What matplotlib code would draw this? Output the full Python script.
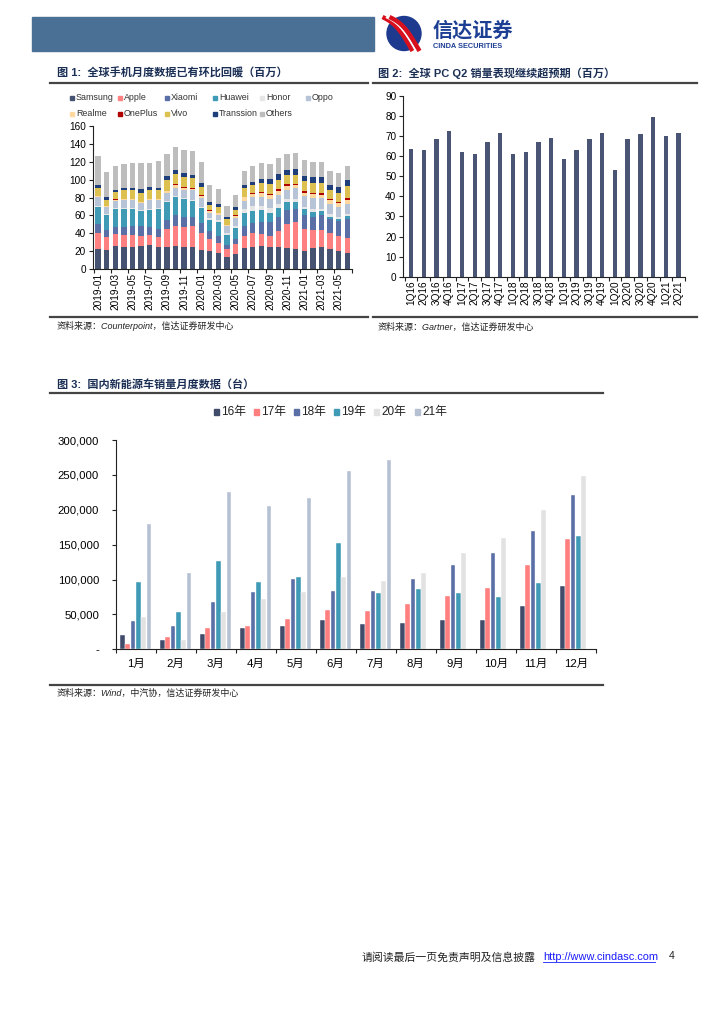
import numpy as np
import matplotlib
matplotlib.use('Agg')
import matplotlib.pyplot as plt
from matplotlib.patches import Rectangle, Circle
from matplotlib.ticker import FuncFormatter

plt.rcParams['font.family'] = ['Liberation Sans', 'Noto Sans CJK SC', 'DejaVu Sans']

W, H = 724, 1024

# ---- Figure 1: global smartphone monthly shipments (millions)
months = ['%d-%02d' % (y, m) for y in (2019, 2020, 2021) for m in range(1, 13)][:30]
brands = ['Samsung', 'Apple', 'Xiaomi', 'Huawei', 'Honor', 'Oppo',
          'Realme', 'OnePlus', 'Vivo', 'Transsion', 'Others']
samsung = [22, 21.3, 25.8, 24.7, 24.7, 25.8, 26.5, 24.7, 24.7, 26.2, 24.7, 24.3, 21.3, 20.2, 18.3,
           13.5, 16.8, 23.2, 24.7, 25.4, 25, 24.7, 23.6, 22.4, 20.6, 23.9, 24.3, 22.8, 20.6, 17.9]
apple = [18.4, 15, 13.8, 13.4, 13.8, 11.6, 11.3, 10.8, 19.8, 22.4, 22.8, 24.3, 19.1, 13.4, 10.5,
         8.9, 10.9, 14.2, 15.7, 14.2, 12.4, 17.5, 27.2, 29.9, 24.3, 19.8, 19.8, 17.2, 16.8, 16.9]
xiaomi = [10.4, 7.4, 7.9, 9.4, 9.7, 10.5, 9.7, 9.7, 10.1, 12.4, 11.2, 10.1, 10.8, 9, 8.6,
          4.5, 5.9, 11.2, 10.8, 13.4, 15.3, 16.1, 15.7, 15, 16.1, 15, 16.1, 15.7, 16.4, 21.6]
huawei = [18.7, 17.3, 19.5, 20.2, 19.5, 17.5, 19, 21.8, 20.9, 20.1, 19.8, 17.9, 16.8, 12, 15.3,
          11.6, 12.8, 14.2, 13.8, 12.8, 10.5, 10.5, 9, 8.2, 6, 5.2, 4.5, 3, 2.3, 2.6]
honor = [1, 1, 1, 1, 1, 1, 1, 1, 1, 1, 1, 1, 1.5, 2.2, 2.2,
         2.2, 2.2, 4.5, 6, 5.2, 5.2, 4.1, 3, 3.4, 2.5, 3.1, 3, 2.6, 2.6, 2.7]
oppo = [10.2, 8, 8.6, 8.7, 8.7, 7.2, 9.5, 9, 8.4, 9.1, 9.1, 10.6, 10.1, 6, 5.3,
        7.2, 9, 9.3, 9.7, 10.1, 10.1, 10.5, 10.5, 11.6, 12.4, 13, 11.6, 11.2, 11.2, 11.6]
realme = [1, 0.7, 1, 1, 1, 1, 1.2, 1.2, 2.5, 3, 2.5, 2, 2.5, 2.2, 2.2,
          1.1, 2.2, 3.7, 3, 4.1, 4.9, 4.5, 4.5, 4.1, 3.7, 3.7, 4.1, 4.5, 4.1, 4.5]
oneplus = [0.7, 0.4, 0.4, 0.4, 0.4, 0.4, 0.4, 0.4, 0.6, 1.5, 1.1, 0.7, 0.7, 0.7, 0.7,
           0.4, 0.7, 0.7, 1.1, 1.1, 1.1, 1.5, 1.5, 1.1, 1.9, 1.9, 1.5, 1.1, 1.5, 1.5]
vivo = [8.1, 6.3, 8, 9.8, 9.4, 10.6, 10, 9.6, 11.8, 11.3, 11.4, 10.8, 9.2, 6.1, 6.4,
        6.3, 6, 9.5, 9, 10.1, 10.5, 10.4, 10.4, 10.1, 11.2, 10.4, 11.1, 10.5, 10.1, 13.7]
transsion = [3.7, 3.6, 2.6, 2.6, 2.6, 3.7, 3.4, 3, 4.2, 3.6, 4.1, 4.1, 4.4, 3.3, 3.8,
             2.6, 3.4, 3.7, 3.8, 4.6, 5.6, 6.4, 6, 6.3, 6, 7.2, 7.2, 5.6, 6.7, 6.8]
others = [32.8, 27.8, 26.9, 26.6, 28.1, 29.6, 26.5, 29.6, 24.6, 25.8, 25.8, 26.9, 23.2, 19.1, 16.4,
          12, 13.1, 15.8, 17.9, 17.5, 17.5, 17.9, 17.6, 18.4, 17.5, 16.4, 16.4, 15.3, 15.7, 15.7]
brand_values = [samsung, apple, xiaomi, huawei, honor, oppo, realme, oneplus, vivo, transsion, others]
brand_colors = ['#465271', '#ff8080', '#5a6fa6', '#3f9ab5', '#e6e6e6', '#b7c3d6',
                '#ffd8a0', '#b00000', '#dcc050', '#1f3f7a', '#bdbdbd']

# ---- Figure 2: global PC shipments (millions)
quarters = ['1Q16', '2Q16', '3Q16', '4Q16', '1Q17', '2Q17', '3Q17', '4Q17', '1Q18', '2Q18', '3Q18',
            '4Q18', '1Q19', '2Q19', '3Q19', '4Q19', '1Q20', '2Q20', '3Q20', '4Q20', '1Q21', '2Q21']
pc = [63.5, 63.2, 68.8, 72.5, 62.0, 61.0, 67.1, 71.6, 61.2, 62.0, 67.2,
      68.9, 58.8, 63.0, 68.8, 71.7, 52.9, 68.4, 71.3, 79.3, 69.9, 71.5]

# ---- Figure 3: domestic NEV monthly sales (units)
cn_months = ['1月', '2月', '3月', '4月', '5月', '6月', '7月', '8月', '9月', '10月', '11月', '12月']
years = ['16年', '17年', '18年', '19年', '20年', '21年']
y16 = [21000, 13000, 22000, 30000, 33000, 42000, 36000, 38000, 42000, 42000, 62000, 91000]
y17 = [7000, 18000, 31000, 34000, 44000, 56000, 55000, 65000, 76000, 88000, 121000, 158000]
y18 = [40000, 34000, 68000, 82000, 101000, 84000, 84000, 101000, 121000, 138000, 170000, 221000]
y19 = [96000, 53000, 126000, 97000, 104000, 152000, 80000, 86000, 80000, 75000, 95000, 163000]
y20 = [46000, 13000, 53000, 72000, 82000, 104000, 98000, 110000, 138000, 160000, 200000, 248000]
y21 = [179000, 110000, 226000, 206000, 217000, 256000, 271000]
year_values = [y16, y17, y18, y19, y20, y21]
year_colors = ['#414c6b', '#ff7f7f', '#5a6fa6', '#3f9ab5', '#e2e2e2', '#b5c0d3']

title_color = '#1b2f55'

fig = plt.figure(figsize=(W / 100, H / 100), dpi=100)
page = fig.add_axes([0, 0, 1, 1])
page.set_xlim(0, W)
page.set_ylim(H, 0)
page.axis('off')


def box(l, t, r, b):
    return fig.add_axes([l / W, 1 - b / H, (r - l) / W, (b - t) / H])


def style_axes(ax):
    for s in ('top', 'right'):
        ax.spines[s].set_visible(False)
    for s in ('left', 'bottom'):
        ax.spines[s].set_color('#222222')
        ax.spines[s].set_linewidth(0.8)
    ax.tick_params(axis='y', direction='out', length=3, width=0.8, color='#222222', pad=2)


# header
page.add_patch(Rectangle((32, 17), 342, 34, color='#4b7096'))
page.add_patch(Circle((404, 33.5), 17, color='#1d3a8f'))
t = np.linspace(0, 1, 50)
for off, c, lw in ((-3.5, '#d8101e', 3.2), (0, 'white', 1.5), (3.5, '#d8101e', 3.2)):
    xs = 386 + 30 * t + off
    ys = 17 + 34 * t - 6 * np.sin(np.pi * t)
    page.plot(xs, ys, color=c, lw=lw, solid_capstyle='butt')
page.text(433, 31, '信达证券', fontsize=14.5, fontweight='bold', color='#1c3f94', va='center')
page.text(433, 46, 'CINDA SECURITIES', fontsize=5.3, fontweight='bold', color='#1c3f94', va='center')

# titles and rules
page.text(57, 73, '图 1:  全球手机月度数据已有环比回暖（百万）', fontsize=8, fontweight='bold',
          color=title_color, va='center')
page.text(378, 73, '图 2:  全球 PC Q2 销量表现继续超预期（百万）', fontsize=8, fontweight='bold',
          color=title_color, va='center')
page.text(57, 384, '图 3:  国内新能源车销量月度数据（台）', fontsize=8, fontweight='bold',
          color=title_color, va='center')
for x0, x1, y in ((50, 368, 83), (373, 697, 83), (50, 368, 317), (373, 697, 317),
                  (50, 603, 393), (50, 603, 685)):
    page.plot([x0, x1], [y, y], color='#444444', lw=1.6)
page.text(57, 326, '资料来源：Counterpoint，信达证券研发中心', fontsize=6.5, color='#222222',
          va='center', style='italic')
page.text(378, 327, '资料来源：Gartner，信达证券研发中心', fontsize=6.5, color='#222222',
          va='center', style='italic')
page.text(57, 693, '资料来源：Wind，中汽协，信达证券研发中心', fontsize=6.5, color='#222222',
          va='center', style='italic')

# footer
page.text(362, 957, '请阅读最后一页免责声明及信息披露', fontsize=7.8, color='#222222', va='center')
page.text(543, 957, 'http://www.cindasc.com', fontsize=7.9, color='#1a1aff', va='center')
page.plot([543, 655], [962, 962], color='#1a1aff', lw=0.6)
page.text(669, 956, '4', fontsize=7.5, color='#222222', va='center')

# ---- chart 1
ax1 = box(93, 126.3, 352, 269)
x1 = np.arange(len(months))
bottom = np.zeros(len(months))
for name, vals, col in zip(brands, brand_values, brand_colors):
    ax1.bar(x1, vals, 0.62, bottom=bottom, color=col, label=name)
    bottom += np.array(vals)
ax1.set_ylim(0, 160)
ax1.set_yticks(range(0, 161, 20))
ax1.set_xlim(-0.6, 29.55)
ax1.set_xticks(x1[::2])
ax1.set_xticklabels(months[::2], rotation=90, fontsize=7.2)
ax1.set_xticks(np.arange(-0.5, 30, 2), minor=True)
ax1.tick_params(axis='x', which='major', length=0, pad=3)
ax1.tick_params(axis='x', which='minor', direction='out', length=3, width=0.8, color='#222222')
style_axes(ax1)
ax1.tick_params(axis='y', labelsize=7.2)

leg_cols = [72, 120, 167, 215, 262, 308]
for i, (name, col) in enumerate(zip(brands, brand_colors)):
    lx = leg_cols[i % 6]
    ly = 98 if i < 6 else 114
    page.add_patch(Rectangle((lx - 2, ly - 2.2), 4.4, 4.4, color=col))
    page.text(lx + 4, ly, name, fontsize=6.4, color='#333333', va='center')

# ---- chart 2
ax2 = box(403.3, 96, 685, 276.7)
x2 = np.arange(len(quarters))
ax2.bar(x2, pc, 0.34, color='#4a5475')
ax2.set_ylim(0, 90)
ax2.set_yticks(range(0, 91, 10))
ax2.set_xlim(-0.6, 21.4)
ax2.set_xticks(x2)
ax2.set_xticklabels(quarters, rotation=90, fontsize=7.2)
ax2.set_xticks(np.arange(-0.5, 22, 1), minor=True)
ax2.tick_params(axis='x', which='major', length=0, pad=3)
ax2.tick_params(axis='x', which='minor', direction='out', length=3, width=0.8, color='#222222')
style_axes(ax2)
ax2.tick_params(axis='y', labelsize=7.2)

# ---- chart 3
ax3 = box(115.7, 440, 595.7, 649.3)
x3 = np.arange(len(cn_months))
step = 0.133
for i, (name, vals, col) in enumerate(zip(years, year_values, year_colors)):
    xs = x3[:len(vals)] + (i - 2.5) * step
    ax3.bar(xs, vals, 0.115, color=col, edgecolor='white', linewidth=0.3, label=name)
ax3.set_ylim(0, 300000)
ax3.set_yticks(range(0, 300001, 50000))
ax3.yaxis.set_major_formatter(FuncFormatter(lambda v, p: '-' if v == 0 else '{:,}'.format(int(v))))
ax3.set_xlim(-0.5, 11.5)
ax3.set_xticks(x3)
ax3.set_xticklabels(cn_months, fontsize=8.2)
ax3.set_xticks(np.arange(-0.5, 12, 1), minor=True)
ax3.tick_params(axis='x', which='major', length=0, pad=7)
ax3.tick_params(axis='x', which='minor', direction='out', length=3, width=0.8, color='#222222')
style_axes(ax3)
ax3.tick_params(axis='y', labelsize=8.2, pad=9)

leg3 = [216, 256, 296, 336, 376, 417]
for lx, name, col in zip(leg3, years, year_colors):
    page.add_patch(Rectangle((lx - 2.5, 412 - 2.8), 5.5, 5.5, color=col))
    page.text(lx + 5, 412, name, fontsize=8.5, color='#222222', va='center')

fig.savefig('out.png', dpi=100)
